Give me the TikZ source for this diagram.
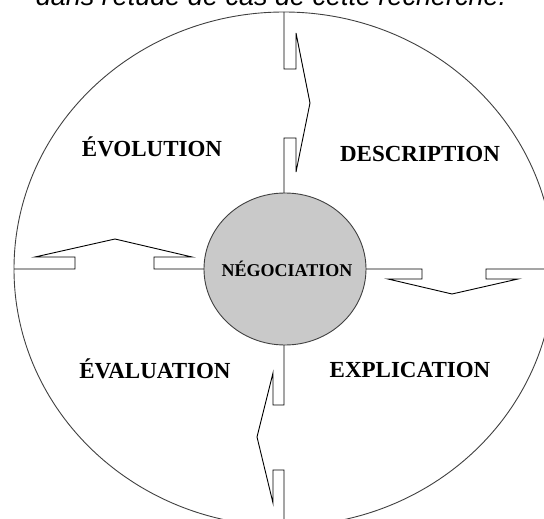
\documentclass[tikz,border=0pt]{standalone}
\usepackage{fontspec}
\setmainfont{Liberation Serif}
\newfontfamily\captfont{Liberation Sans}
\usetikzlibrary{shapes.geometric}
\tikzset{
  lab/.style={anchor=base,inner sep=0pt,font=\bfseries\fontsize{23}{27}\selectfont},
  flow/.style={draw=black,line width=0.9pt,line join=miter},
  ring/.style={ellipse,draw=black!75,line width=0.9pt,inner sep=0pt,outer sep=0pt},
}
\begin{document}
\begin{tikzpicture}[x=1pt,y=-1pt]
\clip (0,0) rectangle (544,519);
\useasboundingbox (0,0) rectangle (544,519);
% caption (cut at top, as in the reference)
\node[anchor=base,inner sep=0pt,font=\captfont\itshape\fontsize{27}{31}\selectfont] (cap) at (271,6) {dans l'étude de cas de cette recherche.};
% outer and inner ellipses
\node[ring,minimum width=540,minimum height=514] (outer) at (284,269) {};
\node[ring,fill=black!21,minimum width=162,minimum height=152] (neg) at (285,269) {};
\node[lab,font=\bfseries\fontsize{18}{21}\selectfont] (negt) at (287,276) {NÉGOCIATION};
% labels
\node[lab] (evo) at (152,157) {ÉVOLUTION};
\node[lab] (desc) at (420,161) {DESCRIPTION};
\node[lab] (eva) at (155,378) {ÉVALUATION};
\node[lab] (expl) at (410,377) {EXPLICATION};
% top arrow
\coordinate (t1) at (284,193);
\draw[flow] (outer.north -| t1) -- (284,69) -- (296,69) -- (296,33) -- (310,103) -- (296,172) -- (296,138) -- (284,138) -- (t1);
% right arrow
\draw[flow] (neg.east) -- (422,269) -- (422,279) -- (388,279) -- (452,294) -- (518,279) -- (486,279) -- (486,269) -- (outer.east);
% bottom arrow
\coordinate (b1) at (284,345);
\draw[flow] (b1) -- (284,405) -- (273,405) -- (273,373) -- (257,437) -- (273,503) -- (273,470) -- (284,470) -- (outer.south -| b1);
% left arrow
\draw[flow] (outer.west) -- (75,269) -- (75,257) -- (35,257) -- (115,239) -- (192,257) -- (154,257) -- (154,269) -- (neg.west);
\end{tikzpicture}
\end{document}
